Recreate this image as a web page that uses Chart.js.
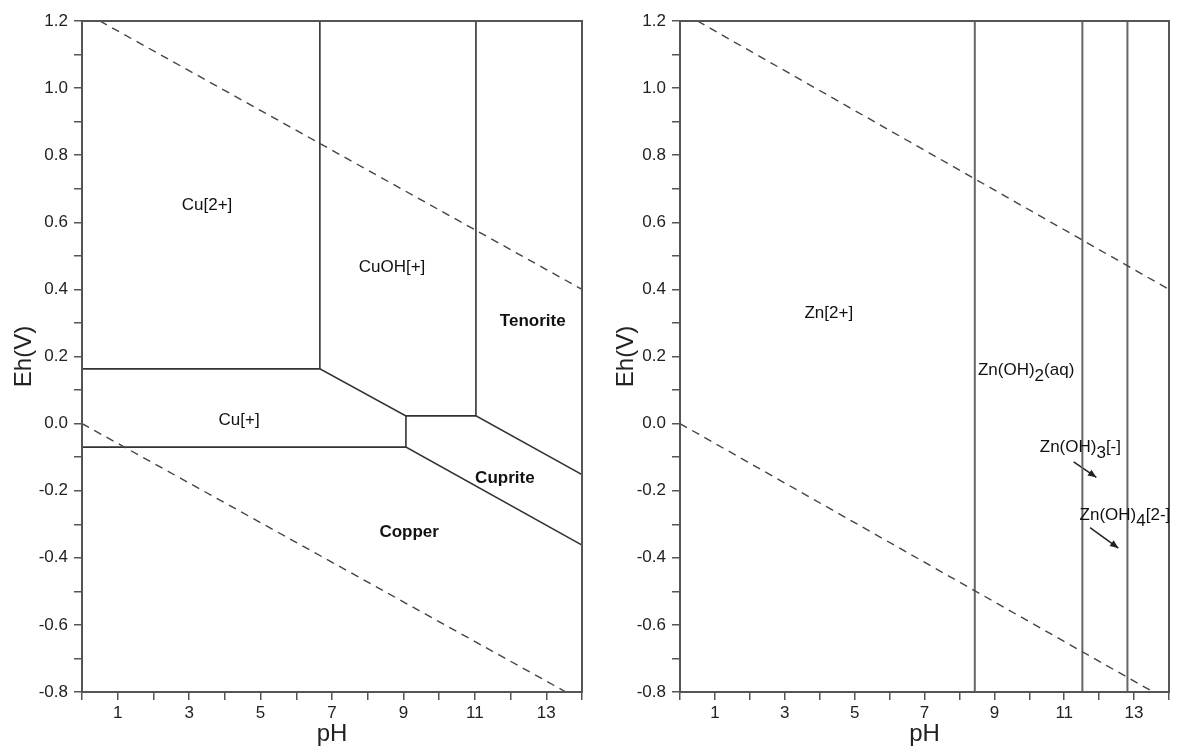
<!DOCTYPE html>
<html>
<head>
<meta charset="utf-8">
<script src="https://cdn.jsdelivr.net/npm/chart.js@4/dist/chart.umd.min.js"></script>
<style>
  html, body { margin: 0; padding: 0; background: #fff; }
  #wrap { position: relative; width: 1185px; height: 751px; overflow: hidden; }
  canvas { position: absolute; top: 0; }
  #cuChart { left: 0; }
  #znChart { left: 592px; }
</style>
</head>
<body>
<div id="wrap">
  <canvas id="cuChart" width="592" height="751"></canvas>
  <canvas id="znChart" width="593" height="751"></canvas>
</div>
<script>
// Eh-pH (Pourbaix) diagrams: Cu-H2O (left) and Zn-H2O (right)

const PH_LABELS = [1, 3, 5, 7, 9, 11, 13];
const EH_LABELS = ["-0.8", "-0.6", "-0.4", "-0.2", "0.0", "0.2", "0.4", "0.6", "0.8", "1.0", "1.2"];

// water stability limits, [pH, Eh] – same on both panels
const WATER_UPPER = [[0.5, 1.2], [14, 0.40]];
const WATER_LOWER = [[0, 0.0], [13.55, -0.8]];

// Cu boundaries
const CU_MAIN = [[0, 0.163], [6.66, 0.163], [9.07, 0.023], [11.03, 0.023], [14, -0.152]];
const CU_CUOH_LEFT = [[6.66, 1.2], [6.66, 0.163]];
const CU_TENORITE_LEFT = [[11.03, 1.2], [11.03, 0.023]];
const CU_COPPER_TOP = [[0, -0.07], [9.07, -0.07], [14, -0.362]];
const CU_CUPRITE_LEFT = [[9.07, 0.023], [9.07, -0.07]];

const CU_LABELS = [
  { parts: [["Cu[2+]", 0]], at: [3.5, 0.652] },
  { parts: [["CuOH[+]", 0]], at: [8.68, 0.467] },
  { parts: [["Tenorite", 0]], at: [12.62, 0.306], bold: true },
  { parts: [["Cu[+]", 0]], at: [4.4, 0.011] },
  { parts: [["Cuprite", 0]], at: [11.84, -0.162], bold: true },
  { parts: [["Copper", 0]], at: [9.16, -0.323], bold: true },
];

// Zn boundaries (vertical, pH only)
const ZN_BOUNDS = [8.44, 11.52, 12.81];

const ZN_LABELS = [
  { parts: [["Zn[2+]", 0]], at: [4.26, 0.330] },
  { parts: [["Zn(OH)", 0], ["2", 1], ["(aq)", 0]], at: [8.53, 0.160], left: true },
  { parts: [["Zn(OH)", 0], ["3", 1], ["[-]", 0]], at: [10.30, -0.071], left: true },
  { parts: [["Zn(OH)", 0], ["4", 1], ["[2-]", 0]], at: [11.44, -0.272], left: true },
];
const ZN_ARROWS = [
  [[11.27, -0.114], [11.92, -0.160]],
  [[11.74, -0.310], [12.55, -0.371]],
];

const FONT = "'Liberation Sans', Arial, sans-serif";
const AXIS_COLOR = "#555";

const pts = (arr) => arr.map(([x, y]) => ({ x, y }));

function solid(arr, color, width) {
  return { data: pts(arr), showLine: true, pointRadius: 0, borderColor: color, borderWidth: width, tension: 0, fill: false };
}
function dashed(arr) {
  return { data: pts(arr), showLine: true, pointRadius: 0, borderColor: "#444", borderWidth: 1.4, borderDash: [8, 6], tension: 0, fill: false };
}

const framePlugin = {
  id: "frame",
  afterDatasetsDraw(chart) {
    const { ctx, chartArea: a } = chart;
    ctx.save();
    ctx.strokeStyle = AXIS_COLOR;
    ctx.lineWidth = 2;
    ctx.strokeRect(a.left, a.top, a.right - a.left, a.bottom - a.top);
    ctx.restore();
  },
};

const labelPlugin = {
  id: "regionLabels",
  afterDatasetsDraw(chart, args, opts) {
    const { ctx } = chart;
    const xs = chart.scales.x, ys = chart.scales.y;
    ctx.save();
    ctx.fillStyle = "#111";
    ctx.textBaseline = "middle";
    ctx.textAlign = "left";
    (opts.labels || []).forEach((lb) => {
      ctx.font = (lb.bold ? "bold " : "") + "17px " + FONT;
      const total = lb.parts.reduce((s, p) => s + ctx.measureText(p[0]).width, 0);
      let x = xs.getPixelForValue(lb.at[0]);
      const y = ys.getPixelForValue(lb.at[1]);
      if (!lb.left) x -= total / 2;
      lb.parts.forEach(([txt, sub]) => {
        ctx.fillText(txt, x, y + (sub ? 6 : 0));
        x += ctx.measureText(txt).width;
      });
    });
    ctx.strokeStyle = "#222";
    ctx.fillStyle = "#222";
    ctx.lineWidth = 1.5;
    (opts.arrows || []).forEach(([p0, p1]) => {
      const x0 = xs.getPixelForValue(p0[0]), y0 = ys.getPixelForValue(p0[1]);
      const x1 = xs.getPixelForValue(p1[0]), y1 = ys.getPixelForValue(p1[1]);
      const ang = Math.atan2(y1 - y0, x1 - x0);
      ctx.beginPath();
      ctx.moveTo(x1, y1);
      ctx.lineTo(x1 - 9 * Math.cos(ang - 0.4), y1 - 9 * Math.sin(ang - 0.4));
      ctx.lineTo(x1 - 9 * Math.cos(ang + 0.4), y1 - 9 * Math.sin(ang + 0.4));
      ctx.closePath();
      ctx.fill();
    });
    ctx.restore();
  },
};

function makeScales(yAxisWidth, yTitlePad) {
  return {
    x: {
      type: "linear", min: 0, max: 14,
      afterFit: (s) => { s.height = 59; },
      ticks: {
        stepSize: 1, autoSkip: false, maxRotation: 0, padding: 3,
        color: "#222", font: { family: FONT, size: 17 },
        callback: (v) => (PH_LABELS.includes(v) ? String(v) : ""),
      },
      grid: { drawOnChartArea: false, drawTicks: true, tickLength: 8, color: AXIS_COLOR, lineWidth: 1.5 },
      border: { color: AXIS_COLOR, width: 2 },
      title: { display: true, text: "pH", color: "#222", font: { family: FONT, size: 24 }, padding: { top: 0, bottom: 2 } },
    },
    y: {
      type: "linear", min: -0.8, max: 1.2,
      afterFit: (s) => { s.width = yAxisWidth; },
      ticks: {
        stepSize: 0.1, autoSkip: false, padding: 6,
        color: "#222", font: { family: FONT, size: 17 },
        callback: (v) => EH_LABELS.find((l) => Math.abs(parseFloat(l) - v) < 1e-6) || "",
      },
      grid: { drawOnChartArea: false, drawTicks: true, tickLength: 8, color: AXIS_COLOR, lineWidth: 1.5 },
      border: { color: AXIS_COLOR, width: 2 },
      title: { display: true, text: "Eh(V)", color: "#222", font: { family: FONT, size: 24 }, padding: { top: yTitlePad, bottom: 0 } },
    },
  };
}

function makeChart(id, datasets, labelOpts, yAxisWidth, yTitlePad, rightPad) {
  return new Chart(document.getElementById(id), {
    type: "scatter",
    data: { datasets },
    options: {
      responsive: false,
      animation: false,
      events: [],
      layout: { padding: { top: 21, right: rightPad, bottom: 0, left: 0 } },
      plugins: { legend: { display: false }, tooltip: { enabled: false }, regionLabels: labelOpts },
      scales: makeScales(yAxisWidth, yTitlePad),
    },
    plugins: [framePlugin, labelPlugin],
  });
}

const cuLineColor = "#333";
makeChart("cuChart", [
  dashed(WATER_UPPER),
  dashed(WATER_LOWER),
  solid(CU_MAIN, cuLineColor, 1.6),
  solid(CU_CUOH_LEFT, cuLineColor, 1.6),
  solid(CU_TENORITE_LEFT, cuLineColor, 1.6),
  solid(CU_COPPER_TOP, cuLineColor, 1.6),
  solid(CU_CUPRITE_LEFT, cuLineColor, 1.6),
], { labels: CU_LABELS }, 82, 10, 10);

makeChart("znChart", [
  dashed(WATER_UPPER),
  dashed(WATER_LOWER),
  ...ZN_BOUNDS.map((b) => solid([[b, -0.8], [b, 1.2]], "#666", 2)),
  ...ZN_ARROWS.map((a) => solid(a, "#222", 1.5)),
], { labels: ZN_LABELS, arrows: ZN_ARROWS }, 88, 20, 16);
</script>
</body>
</html>
